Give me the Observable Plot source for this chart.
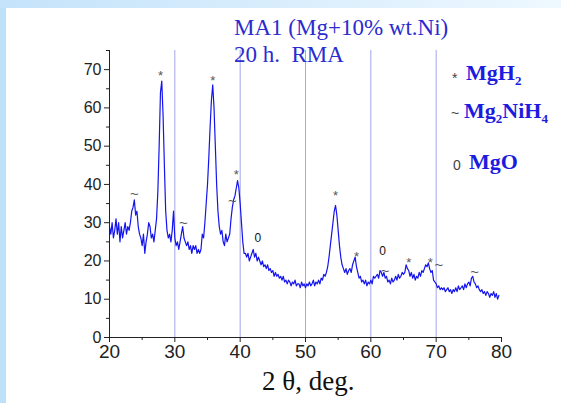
<!DOCTYPE html>
<html><head><meta charset="utf-8">
<script src="https://cdn.jsdelivr.net/npm/d3@7"></script>
<script src="https://cdn.jsdelivr.net/npm/@observablehq/plot@0.6"></script>
<style>
body{margin:0;background:#fff;}
#wrap{position:relative;width:561px;height:403px;overflow:hidden;background:#fff;}
.abs{position:absolute;white-space:nowrap;}
.ttl{font-family:"Liberation Serif",serif;font-size:23px;color:#2b2bd0;}
.leg{font-family:"Liberation Serif",serif;font-size:22px;font-weight:bold;color:#1c1ce0;}
.leg sub{font-size:13px;vertical-align:-5px;}
.sym{font-family:"Liberation Sans",Arial,sans-serif;font-size:14px;color:#444;}
#xl{font-family:"Liberation Serif",serif;font-size:27px;color:#111;}
</style></head>
<body><div id="wrap"></div>
<script>
// sampling grid of the diffractogram (2θ, deg) and intensity values
const thetaStart = 20, thetaStep = 0.2;
const intensity = [
29,27,30,26,28, 31,27,30,25,29, 26,28,30,27,29, 28,30,33,34,36,
32,33,29,27,26, 24,27,22,25,27, 30,29,26,27,25, 28,31,38,50,64,
67,58,45,33,28, 26,27,25,28,33, 26,24,25,23,25, 27,29,26,25,24,
25,23,24,22,24, 23,24,22,23,22, 23,27,26,30,35, 40,47,55,62,66,
60,50,40,33,29, 27,28,25,24,27, 25,26,27,31,34, 36,37,39,41,39,
35,30,25,22,22, 21,22,20,21,22, 23,21,22,20,21, 20,19,20,18.5,19,
18,19,17.5,18,17, 17.5,16,17,16,16.5, 15.5,16,15,16,14.5, 15,14,15,14.5,13.5,
14.5,14,15,13.5,14, 14,13,14.5,13.5,14, 13,14,13.5,14.5,13.5, 14,15,13.5,14.5,14,
15,14,15.5,15,16.5, 16,17,18.5,21,24, 27,30,33,34.5,32, 28,24,21,19,18,
17,18,16.5,17.5,18, 17,19,20,21,18.5, 17,15.5,16,14.5,15, 14,15,13.5,14.5,14,
15,14,16,15.5,16, 16.5,15.5,17.5,17,16, 17,15.5,16,14.5,15, 14,15.5,14.5,15,16,
15,16.5,15.5,16,17, 16.5,17,19,18,17.5, 16,17,15.5,16.5,15, 16,15.5,17,16,17.5,
17,18,19,18.5,19.5, 18,17,17.5,15,14.5, 14,13,13.5,12.5,13, 12.5,13,12,12.5,13,
12,12.5,11.5,12.5,12, 13,12,13.5,12.5,13, 13.5,12.5,14,13,14, 14.5,13.5,15.5,16,14.5,
14,13,13.5,12.5,12, 12.5,11.5,12,11,12, 11.5,10.5,11.5,11,12, 10.5,11.5,10,11
];
const theta = intensity.map((_, i) => +(thetaStart + i * thetaStep).toFixed(1));
const pattern = theta.map((t, i) => ({t, v: intensity[i]}));

// phase markers above peaks
const markSym = ["*","*","*","*","*","*","*","~","~","~","~","~","~","0","0"];
const markX   = [27.8,35.8,39.4,54.6,57.8,65.8,69.1,23.8,31.3,38.8,62.2,70.4,75.9,42.7,61.8];
const markY   = [68.5,67,42.5,37,21,19.5,19.5,37.5,30,35.5,17.2,18.8,17,26,22.5];
const markers = markSym.map((s, i) => ({s, x: markX[i], y: markY[i]}));

const gridX = [30,40,50,60,70];
const xTicks = [20,30,40,50,60,70,80];
const xMinor = [25,35,45,55,65,75];
const yTicks = [0,10,20,30,40,50,60,70];
const yMinor = [5,15,25,35,45,55,65,75];

const chart = Plot.plot({
  width: 561, height: 403,
  marginLeft: 109, marginRight: 60, marginTop: 50, marginBottom: 66,
  x: {domain: [20, 80]},
  y: {domain: [0, 75]},
  style: {fontFamily: "Liberation Sans, Arial, sans-serif", color: "#222", background: "transparent"},
  marks: [
    Plot.ruleX(gridX, {y1: 0, y2: 75, stroke: "#a4a4ea", strokeWidth: 1}),
    Plot.line(pattern, {x: "t", y: "v", stroke: "#1414ee", strokeWidth: 1.2}),
    Plot.text(markers, {x: "x", y: "y", text: "s",
      fontSize: d => d.s === "0" ? 12 : d.s === "~" ? 15 : 13,
      fill: d => d.s === "0" ? "#111" : "#555"}),
    Plot.ruleY([0], {x1: 20, x2: 80, stroke: "#222"}),
    Plot.ruleX([20], {y1: 0, y2: 75, stroke: "#222"}),
    Plot.axisX({ticks: xTicks, tickSize: 5, tickPadding: 2, fontSize: 19, label: null, stroke: "#222"}),
    Plot.axisX({ticks: xMinor, tickSize: 3, text: null, label: null, stroke: "#222"}),
    Plot.axisY({ticks: yTicks, tickSize: 5, tickPadding: 3, fontSize: 16, label: null, stroke: "#222"}),
    Plot.axisY({ticks: yMinor, tickSize: 3, text: null, label: null, stroke: "#222"})
  ]
});
const wrap = document.getElementById("wrap");
wrap.appendChild(chart);
chart.style.position = "absolute"; chart.style.left = "0"; chart.style.top = "0";

function add(html, cls, left, top) {
  const d = document.createElement("div");
  d.className = "abs " + cls; d.innerHTML = html;
  d.style.left = left + "px"; d.style.top = top + "px";
  wrap.appendChild(d); return d;
}
// frame strips
const l = add("", "", 0, 0); l.style.cssText += "width:6px;height:403px;background:#bfe0f9;";
const t = add("", "", 0, 0); t.style.cssText += "width:561px;height:8px;background:linear-gradient(90deg,#c4e3fa,#eef8ff);";

add("MA1 (Mg+10% wt.Ni)", "ttl", 234, 15);
add("20 h.&nbsp; RMA", "ttl", 234, 42);
add("*", "sym", 452, 70); add("MgH<sub>2</sub>", "leg", 466, 60);
add("~", "sym", 451, 105); add("Mg<sub>2</sub>NiH<sub>4</sub>", "leg", 464, 98);
add("0", "sym", 453, 157); add("MgO", "leg", 469, 149);
const xl = add("2 θ, deg.", "", 0, 366); xl.id = "xl"; xl.style.left = "262px";
</script></body></html>
